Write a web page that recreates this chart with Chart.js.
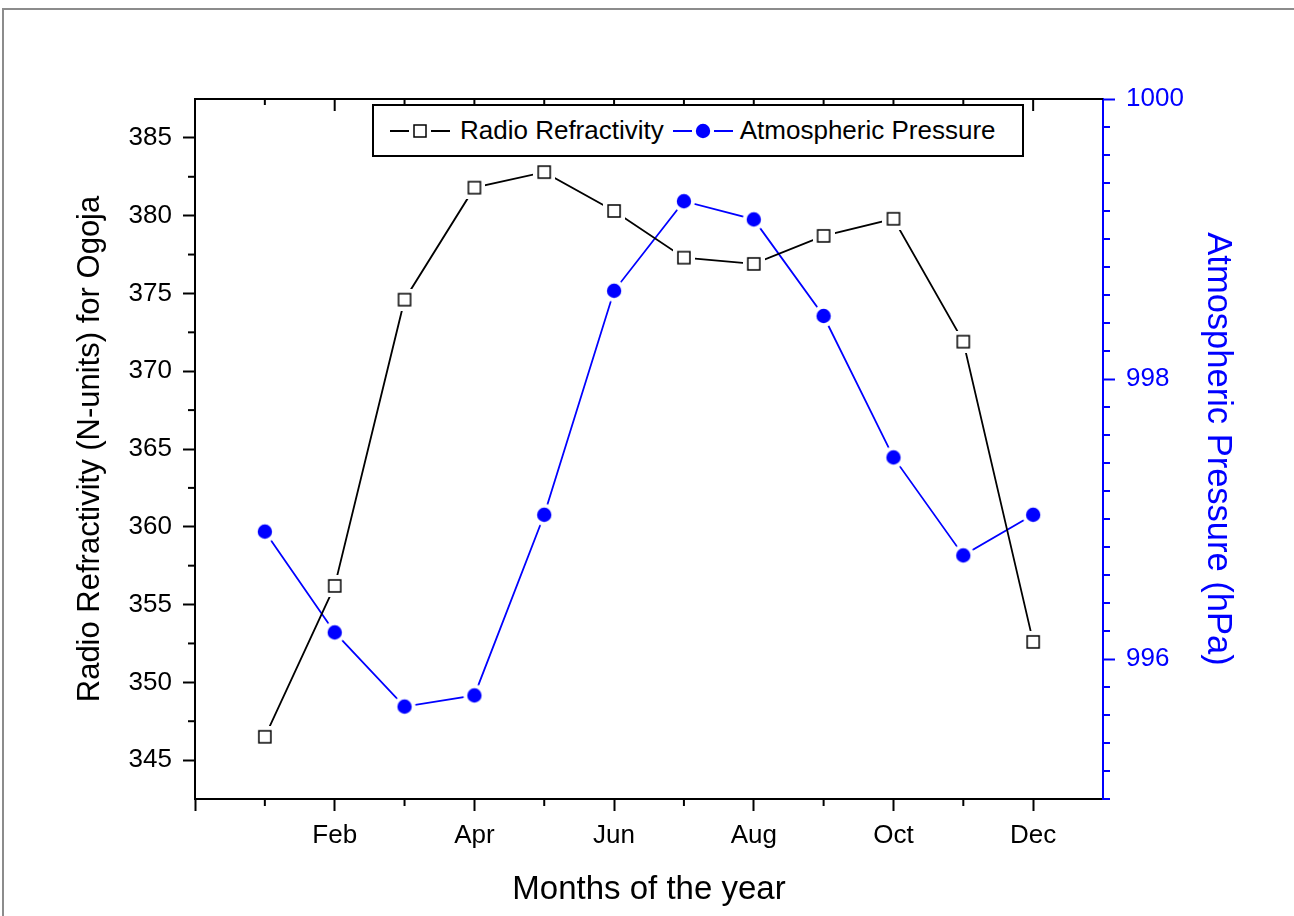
<!DOCTYPE html>
<html>
<head>
<meta charset="utf-8">
<script src="https://cdn.jsdelivr.net/npm/chart.js@4.4.1/dist/chart.umd.min.js"></script>
<style>
body { margin: 0; background: #fff; }
#wrap { position: relative; width: 1294px; height: 916px; overflow: hidden; }
#frame { position: absolute; left: 2px; top: 8px; width: 1400px; height: 1000px; border-top: 2px solid #8c8c8c; border-left: 2px solid #8c8c8c; }
#c { position: absolute; left: 0; top: 0; }
#legend { position: absolute; left: 372px; top: 104px; width: 652px; height: 53px; box-sizing: border-box;
  border: 2px solid #000; background: #fff; display: flex; align-items: center; padding-left: 16px;
  font-family: "Liberation Sans", Arial, sans-serif; font-size: 26px; color: #000; }
#legend canvas { display: block; }
</style>
</head>
<body>
<div id="wrap">
  <div id="frame"></div>
  <canvas id="c" width="1294" height="916"></canvas>
  <div id="legend"></div>
</div>
<script>
// data
const months = ['Jan', 'Feb', 'Mar', 'Apr', 'May', 'Jun', 'Jul', 'Aug', 'Sep', 'Oct', 'Nov', 'Dec'];
const refractivity = [346.5, 356.2, 374.6, 381.8, 382.8, 380.3, 377.3, 376.9, 378.7, 379.8, 371.9, 352.6];
const pressure = [996.91, 996.19, 995.66, 995.74, 997.03, 998.63, 999.27, 999.14, 998.45, 997.44, 996.74, 997.03];

// tick labels
const xTicks = [0, 2, 4, 6, 8, 10, 12];
const leftTicks = [345, 350, 355, 360, 365, 370, 375, 380, 385];
const rightTicks = [996, 998, 1000];

const FONT = '"Liberation Sans", Arial, sans-serif';
const BLUE = '#0000ff';
const LINE_W = 1.8;

// marker images, with a white margin so the line stops short of the symbol
function squareMarker(halo) {
    const c = document.createElement('canvas');
    c.width = 22; c.height = 22;
    const ctx = c.getContext('2d');
    if (halo) {
        ctx.fillStyle = '#fff';
        ctx.fillRect(0, 0, 22, 22);
    }
    ctx.fillStyle = '#fff';
    ctx.fillRect(4.5, 4.5, 13, 13);
    ctx.strokeStyle = '#000';
    ctx.lineWidth = 1.5;
    ctx.strokeRect(5, 5, 12, 12);
    return c;
}

function circleMarker(halo) {
    const c = document.createElement('canvas');
    c.width = 24; c.height = 24;
    const ctx = c.getContext('2d');
    if (halo) {
        ctx.fillStyle = '#fff';
        ctx.beginPath();
        ctx.arc(12, 12, 11, 0, Math.PI * 2);
        ctx.fill();
    }
    ctx.fillStyle = BLUE;
    ctx.beginPath();
    ctx.arc(12, 12, 7.2, 0, Math.PI * 2);
    ctx.fill();
    return c;
}

// legend symbol: line - marker - line
function legendSymbol(color, marker) {
    const c = document.createElement('canvas');
    c.width = 60; c.height = 26;
    const ctx = c.getContext('2d');
    ctx.strokeStyle = color;
    ctx.lineWidth = LINE_W;
    ctx.beginPath();
    ctx.moveTo(0, 13); ctx.lineTo(19, 13);
    ctx.moveTo(41, 13); ctx.lineTo(60, 13);
    ctx.stroke();
    ctx.drawImage(marker, 30 - marker.width / 2, 13 - marker.height / 2);
    return c;
}

function buildLegend() {
    const lg = document.getElementById('legend');
    const items = [
        {label: 'Radio Refractivity', color: '#000', marker: squareMarker(false), gap: 0},
        {label: 'Atmospheric Pressure', color: BLUE, marker: circleMarker(false), gap: 9}
    ];
    for (const it of items) {
        const sym = legendSymbol(it.color, it.marker);
        sym.style.marginLeft = it.gap + 'px';
        sym.style.marginRight = (it.gap ? 7 : 10) + 'px';
        lg.appendChild(sym);
        const sp = document.createElement('span');
        sp.textContent = it.label;
        lg.appendChild(sp);
    }
}
buildLegend();

// minor ticks, top frame line with inward ticks
const axisExtras = {
    id: 'axisExtras',
    afterDraw(chart) {
        const {ctx, chartArea: a, scales} = chart;
        const seg = (x1, y1, x2, y2) => { ctx.beginPath(); ctx.moveTo(x1, y1); ctx.lineTo(x2, y2); ctx.stroke(); };
        ctx.save();
        ctx.lineWidth = 2;
        ctx.strokeStyle = '#000';
        seg(a.left - 1, a.top, a.right, a.top);
        for (let m = 0; m <= 13; m++) {
            const x = scales.x.getPixelForValue(m);
            if (x <= a.left + 1 || x >= a.right - 1) continue;
            seg(x, a.top, x, a.top + (m % 2 ? 6 : 12));
            if (m % 2) seg(x, a.bottom, x, a.bottom + 7);
        }
        for (const v of leftTicks) {
            const y = scales.y.getPixelForValue(v + 2.5);
            if (y > a.top + 1) seg(a.left, y, a.left - 7, y);
        }
        ctx.strokeStyle = BLUE;
        for (let k = 0; k <= 25; k++) {
            const v = 995 + k * 0.2;
            if (rightTicks.some(t => Math.abs(t - v) < 1e-6)) continue;
            const y = scales.y1.getPixelForValue(v);
            seg(a.right, y, a.right + 7, y);
        }
        ctx.restore();
    }
};

const refData = refractivity.map((v, i) => ({x: i + 1, y: v}));
const presData = pressure.map((v, i) => ({x: i + 1, y: v}));

new Chart(document.getElementById('c'), {
    type: 'line',
    data: {
        datasets: [
            {
                label: 'Radio Refractivity',
                data: refData,
                yAxisID: 'y',
                borderColor: '#000',
                borderWidth: LINE_W,
                pointStyle: squareMarker(true),
                pointRadius: 6,
                tension: 0
            },
            {
                label: 'Atmospheric Pressure',
                data: presData,
                yAxisID: 'y1',
                borderColor: BLUE,
                borderWidth: LINE_W,
                pointStyle: circleMarker(true),
                pointRadius: 6,
                tension: 0
            }
        ]
    },
    options: {
        responsive: false,
        animation: false,
        devicePixelRatio: 1,
        layout: {padding: {top: 99, left: 0, right: 0, bottom: 0}},
        plugins: {legend: {display: false}, tooltip: {enabled: false}},
        scales: {
            x: {
                type: 'linear',
                position: 'bottom',
                min: 0,
                max: 13,
                afterBuildTicks: s => { s.ticks = xTicks.map(v => ({value: v})); },
                afterFit: s => { s.height = 117; },
                ticks: {
                    autoSkip: false,
                    maxRotation: 0,
                    padding: 9,
                    color: '#000',
                    font: {family: FONT, size: 26},
                    callback: v => (v > 0 ? months[v - 1] : '')
                },
                grid: {drawOnChartArea: false, tickLength: 12, tickWidth: 2, tickColor: '#000'},
                border: {color: '#000', width: 2},
                title: {
                    display: true,
                    text: 'Months of the year',
                    color: '#000',
                    font: {family: FONT, size: 33},
                    padding: {top: 0, bottom: 6}
                }
            },
            y: {
                position: 'left',
                min: 342.5,
                max: 387.5,
                afterBuildTicks: s => { s.ticks = leftTicks.map(v => ({value: v})); },
                afterFit: s => { s.width = 195; },
                ticks: {padding: 11, color: '#000', font: {family: FONT, size: 26}, callback: v => String(v)},
                grid: {drawOnChartArea: false, tickLength: 12, tickWidth: 2, tickColor: '#000'},
                border: {color: '#000', width: 2},
                title: {
                    display: true,
                    text: 'Radio Refractivity (N-units) for Ogoja',
                    color: '#000',
                    font: {family: FONT, size: 31},
                    padding: {top: 72, bottom: 0}
                }
            },
            y1: {
                position: 'right',
                min: 995,
                max: 1000,
                afterBuildTicks: s => { s.ticks = rightTicks.map(v => ({value: v})); },
                afterFit: s => { s.width = 191; },
                ticks: {padding: 11, color: BLUE, font: {family: FONT, size: 26}, callback: v => String(v)},
                grid: {drawOnChartArea: false, tickLength: 12, tickWidth: 2, tickColor: BLUE},
                border: {color: BLUE, width: 2},
                title: {
                    display: true,
                    text: 'Atmospheric Pressure (hPa)',
                    color: BLUE,
                    font: {family: FONT, size: 34.5},
                    padding: {top: 56, bottom: 0}
                }
            }
        }
    },
    plugins: [axisExtras]
});
</script>
</body>
</html>
